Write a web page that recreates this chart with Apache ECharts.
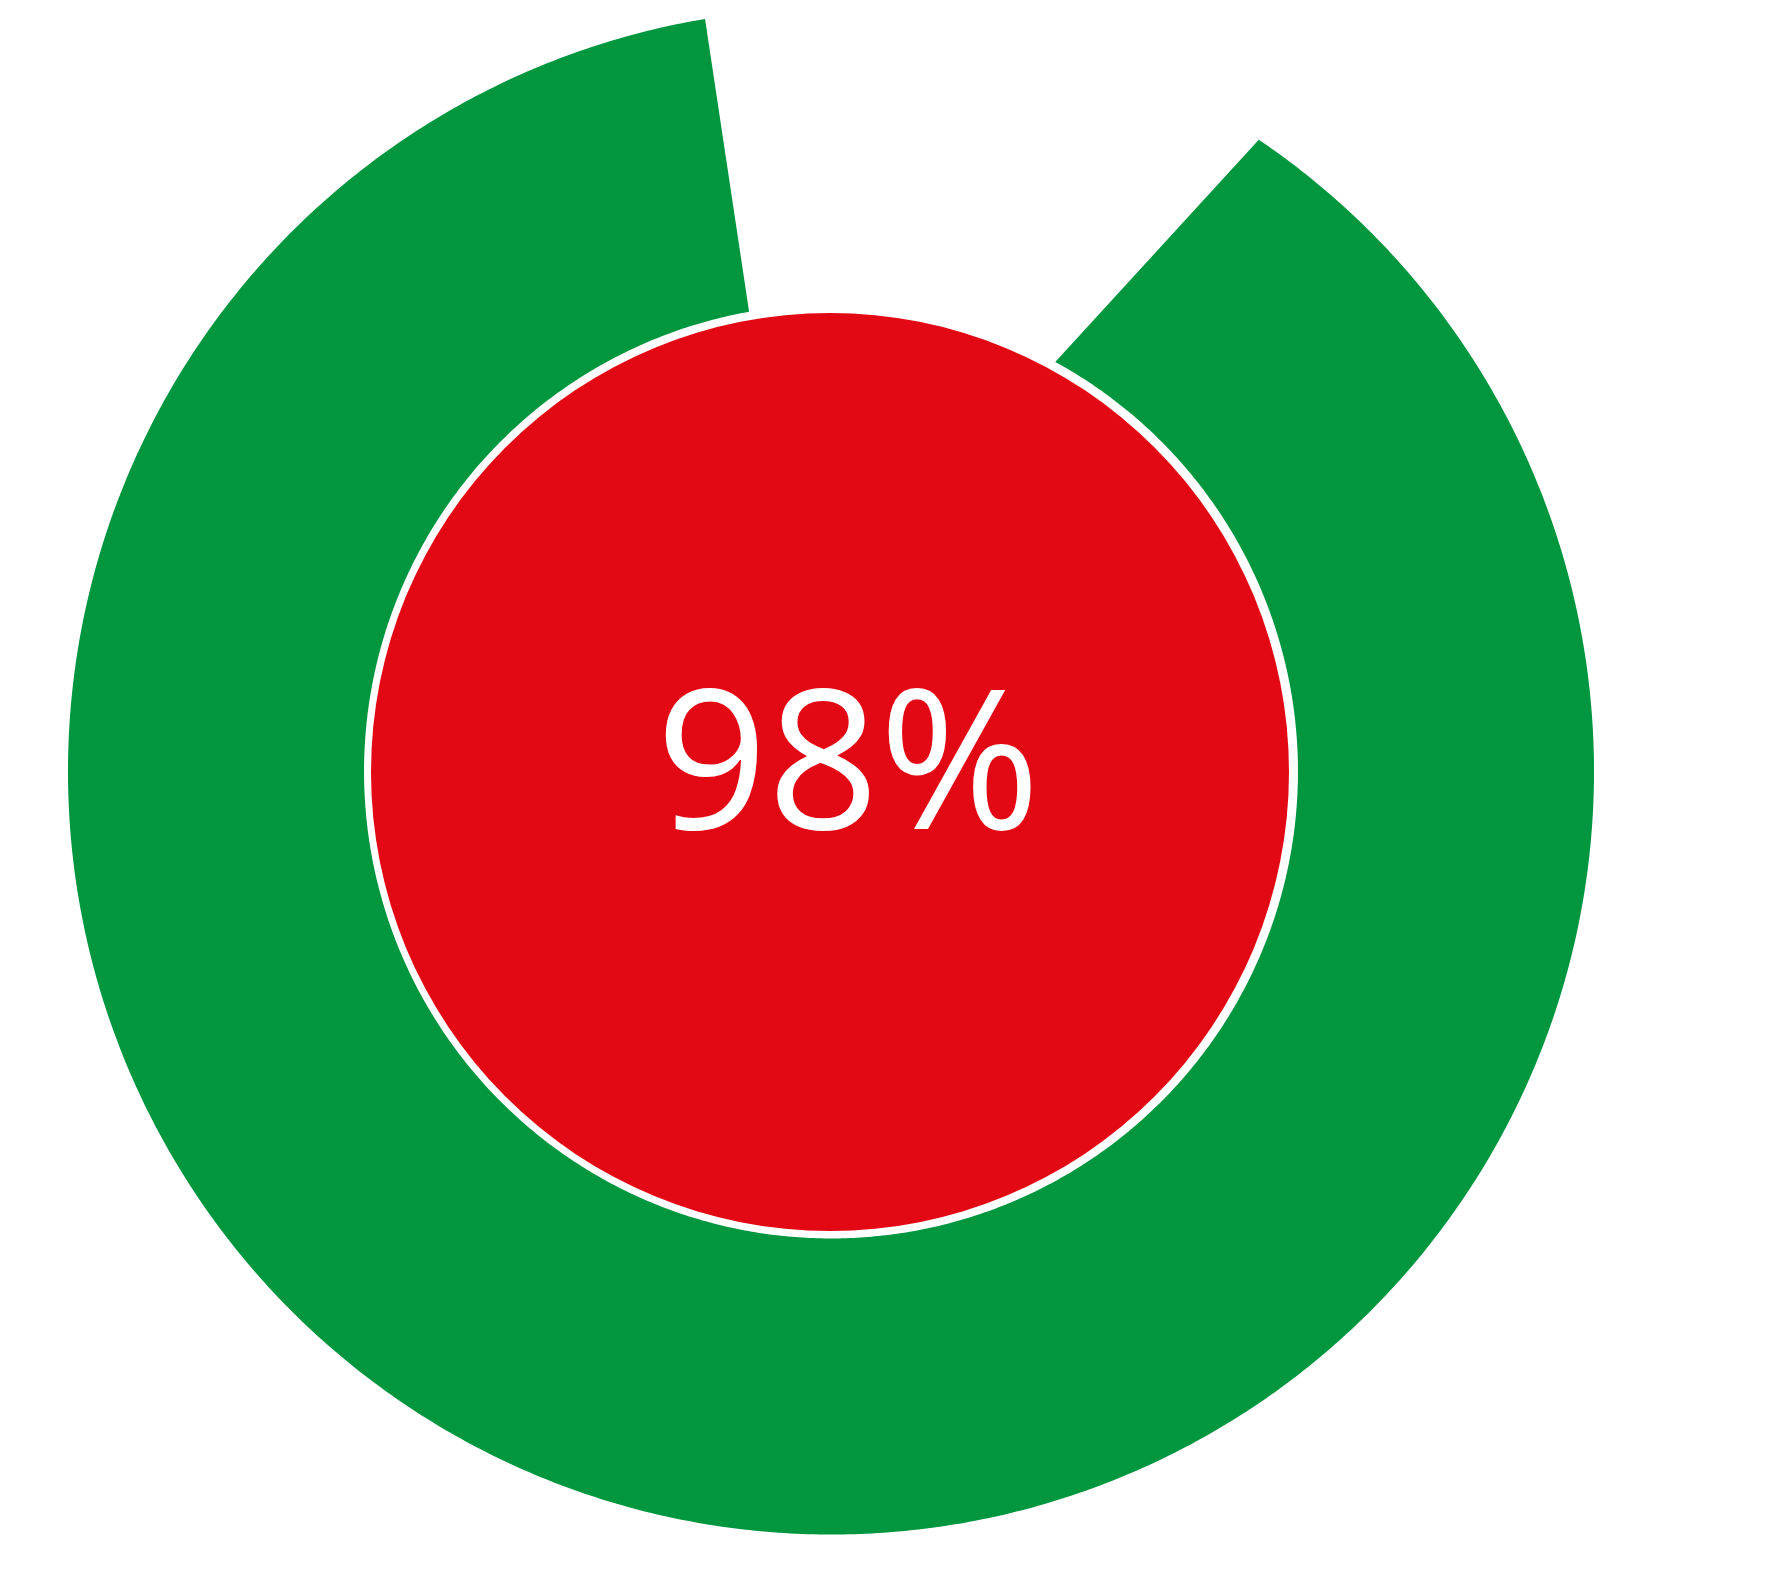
<!DOCTYPE html>
<html>
<head>
<meta charset="utf-8">
<script src="https://cdn.jsdelivr.net/npm/echarts@6/dist/echarts.min.js"></script>
<style>
html,body{margin:0;padding:0;background:#ffffff;}
#chart{width:1771px;height:1584px;}
</style>
</head>
<body>
<div id="chart"></div>
<script>
// Headline value shown in the centre
const headlineValue = [98];
// Ring segment (angles in degrees clockwise from 12 o'clock, radii in % of outer radius)
const ringInnerRadius = [61.2];
const ringOuterRadius = [100];
const ringStartOuter = [34.1];
const ringEndOuter = [350.5];
const ringStartInner = [28.7];
const ringEndInner = [349.9];

const GREEN = '#02963f';
const RED = '#e30914';

const chart = echarts.init(document.getElementById('chart'), null, {renderer: 'canvas'});

const ringData = ringInnerRadius.map((r0, i) => [
  r0, ringOuterRadius[i], ringStartOuter[i], ringEndOuter[i], ringStartInner[i], ringEndInner[i]
]);

function renderRing(params, api) {
  const r0 = api.value(0), r1 = api.value(1);
  const aOs = api.value(2), aOe = api.value(3), aIs = api.value(4), aIe = api.value(5);
  const N = 720;
  const pts = [];
  for (let i = 0; i <= N; i++) {
    pts.push(api.coord([r1, aOs + (aOe - aOs) * i / N]));
  }
  for (let i = N; i >= 0; i--) {
    pts.push(api.coord([r0, aIs + (aIe - aIs) * i / N]));
  }
  return {type: 'polygon', shape: {points: pts}, style: {fill: GREEN}};
}

chart.setOption({
  backgroundColor: '#ffffff',
  animation: false,
  polar: {center: [831, 771.5], radius: 763},
  angleAxis: {type: 'value', min: 0, max: 360, startAngle: 90, clockwise: true, show: false},
  radiusAxis: {type: 'value', min: 0, max: 100, show: false},
  series: [
    {
      type: 'custom',
      coordinateSystem: 'polar',
      silent: true,
      renderItem: renderRing,
      data: ringData
    },
    {
      type: 'pie',
      center: [830, 772],
      radius: [0, 459],
      silent: true,
      label: {show: false},
      labelLine: {show: false},
      itemStyle: {color: RED},
      data: headlineValue.map(v => ({value: v, name: v + '%'}))
    }
  ],
  graphic: [{
    type: 'text',
    x: 848,
    y: 773,
    z: 100,
    silent: true,
    style: {
      text: headlineValue[0] + '%',
      fill: '#ffffff',
      fontFamily: '"Open Sans"',
      fontSize: 195,
      align: 'center',
      verticalAlign: 'middle'
    }
  }]
});
</script>
</body>
</html>
